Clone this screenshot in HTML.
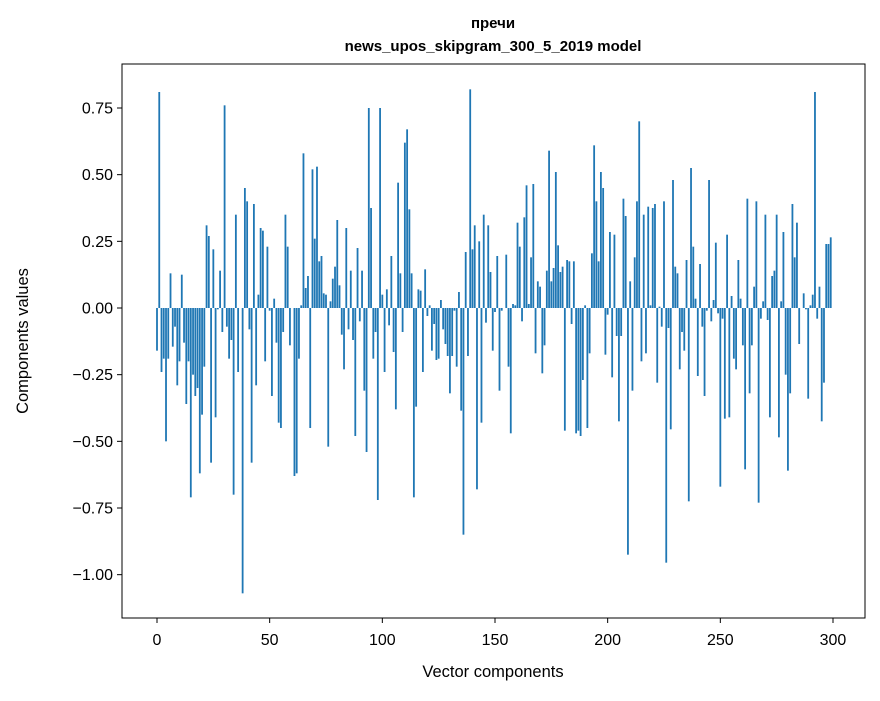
<!DOCTYPE html>
<html><head><meta charset="utf-8"><style>
html,body{margin:0;padding:0;background:#fff;}
svg text{font-family:"Liberation Sans","DejaVu Sans",sans-serif;fill:#000;}
</style></head><body>
<svg id="chart" width="880" height="696" xmlns="http://www.w3.org/2000/svg">
<rect width="880" height="696" fill="#fff"/>
<text x="493" y="28" text-anchor="middle" font-size="15" font-weight="bold">пречи</text>
<text x="493" y="51" text-anchor="middle" font-size="15" font-weight="bold">news_upos_skipgram_300_5_2019 model</text>
<g id="bars"></g>
<g id="axes"></g>
<rect x="122" y="64" width="743" height="554" fill="none" stroke="#000" stroke-width="1"/>
<text x="493" y="677" text-anchor="middle" font-size="16.5">Vector components</text>
<text transform="translate(28,341) rotate(-90)" text-anchor="middle" font-size="16.5">Components values</text>
</svg>
<script>
const values1 = [-0.16,0.81,-0.24,-0.19,-0.50,-0.19,0.13,-0.145,-0.07,-0.29,-0.20,0.125,-0.13,-0.36,-0.20,-0.71,-0.25,-0.33,-0.30,-0.62,-0.40,-0.22,0.31,0.27,-0.58,0.22,-0.41,-0.005,0.14,-0.09,0.76,-0.07,-0.19,-0.12,-0.70,0.35,-0.24,0.0,-1.07,0.45,0.40,-0.08,-0.58,0.39,-0.29,0.05,0.30,0.29,-0.20];
const values2 = [0.23,-0.01,-0.33,0.035,-0.13,-0.43,-0.45,-0.09,0.35,0.23,-0.14,0.0,-0.63,-0.62,-0.19,0.01,0.58,0.075,0.12,-0.45,0.52,0.26,0.53,0.175,0.195,0.055,0.05,-0.52,0.025,0.11,0.155,0.33,0.085,-0.10,-0.23,0.30,-0.08,0.14,-0.12,-0.48,0.225,-0.05,0.14,-0.31,-0.54,0.75,0.375,-0.19,-0.09];
const values3 = [-0.72,0.75,0.05,-0.24,0.07,-0.065,0.195,-0.165,-0.38,0.47,0.13,-0.09,0.62,0.67,0.37,0.13,-0.71,-0.37,0.07,0.065,-0.24,0.145,-0.03,0.01,-0.16,-0.06,-0.195,-0.19,0.03,-0.08,-0.135,-0.18,-0.32,-0.18,-0.01,-0.22,0.06,-0.385,-0.85,0.21,-0.18,0.82,0.22,0.31,-0.68,0.25,-0.43,0.35,-0.055,0.31];
const values4 = [0.135,-0.16,-0.015,0.195,-0.31,-0.01,0.0,0.20,-0.22,-0.47,0.015,0.01,0.32,0.23,-0.05,0.34,0.46,0.015,0.19,0.465,-0.17,0.10,0.08,-0.245,-0.14,0.14,0.59,0.10,0.15,0.51,0.235,0.135,0.155,-0.46,0.18,0.175,-0.06,0.175,-0.47,-0.46,-0.48,-0.27,0.01,-0.45,-0.17,0.205,0.61,0.40,0.175,0.51];
const values5 = [0.45,-0.175,-0.025,0.285,-0.26,0.275,-0.105,-0.425,-0.105,0.41,0.345,-0.925,0.10,-0.31,0.19,0.40,0.70,-0.20,0.35,-0.17,0.38,0.01,0.375,0.39,-0.28,0.005,-0.07,0.40,-0.955,-0.075,-0.455,0.48,0.155,0.13,-0.23,-0.09,-0.16,0.18,-0.725,0.525,0.23,0.035,-0.255,0.165,-0.07,-0.33,-0.01,0.48,-0.05,0.03];
const values6 = [0.245,-0.02,-0.67,-0.04,-0.415,0.275,-0.41,0.045,-0.19,-0.23,0.18,0.035,-0.14,-0.605,0.41,-0.32,-0.14,0.08,0.40,-0.73,-0.04,0.025,0.35,-0.045,-0.41,0.12,0.14,0.35,-0.485,0.025,0.285,-0.25,-0.61,-0.32,0.39,0.19,0.32,-0.135,0.0,0.055,-0.005,-0.34,0.01,0.05,0.81,-0.04,0.08,-0.425,-0.28,0.24,0.24,0.265];
const values = values1.concat(values2, values3, values4, values5, values6);
const xTicks = [0,50,100,150,200,250,300];
const yTicks = [-1.00,-0.75,-0.50,-0.25,0.00,0.25,0.50,0.75];

const NS = 'http://www.w3.org/2000/svg';
const X0 = 157, XS = 2.2533, Y0 = 308, YS = 266.67;
function xMap(v){ return X0 + v*XS; }
function yMap(v){ return Y0 - v*YS; }

const barsG = document.getElementById('bars');
values.forEach(function(v,i){
  const r = document.createElementNS(NS,'rect');
  const x = xMap(i - 0.4), w = xMap(i + 0.4) - xMap(i - 0.4);
  const y1 = yMap(Math.max(v,0)), y2 = yMap(Math.min(v,0));
  r.setAttribute('x', x); r.setAttribute('y', y1);
  r.setAttribute('width', w); r.setAttribute('height', Math.max(y2-y1,0));
  r.setAttribute('fill', '#1f77b4');
  
  
  barsG.appendChild(r);
});

const axesG = document.getElementById('axes');
xTicks.forEach(function(t){
  const x = xMap(t);
  const l = document.createElementNS(NS,'line');
  l.setAttribute('x1',x); l.setAttribute('x2',x); l.setAttribute('y1',618); l.setAttribute('y2',623);
  l.setAttribute('stroke','#000');
  
  
  axesG.appendChild(l);
  const tx = document.createElementNS(NS,'text');
  tx.setAttribute('x',x); tx.setAttribute('y',645); tx.setAttribute('text-anchor','middle'); tx.setAttribute('font-size','16');
  tx.textContent = String(t);
  
  
  axesG.appendChild(tx);
});
yTicks.forEach(function(t){
  const y = yMap(t);
  const l = document.createElementNS(NS,'line');
  l.setAttribute('x1',117); l.setAttribute('x2',122); l.setAttribute('y1',y); l.setAttribute('y2',y);
  l.setAttribute('stroke','#000');
  
  
  axesG.appendChild(l);
  const tx = document.createElementNS(NS,'text');
  tx.setAttribute('x',113); tx.setAttribute('y',y+5.5); tx.setAttribute('text-anchor','end'); tx.setAttribute('font-size','16');
  tx.textContent = (t<0?'\u2212':'') + Math.abs(t).toFixed(2);
  
  
  axesG.appendChild(tx);
});
</script>
</body></html>
